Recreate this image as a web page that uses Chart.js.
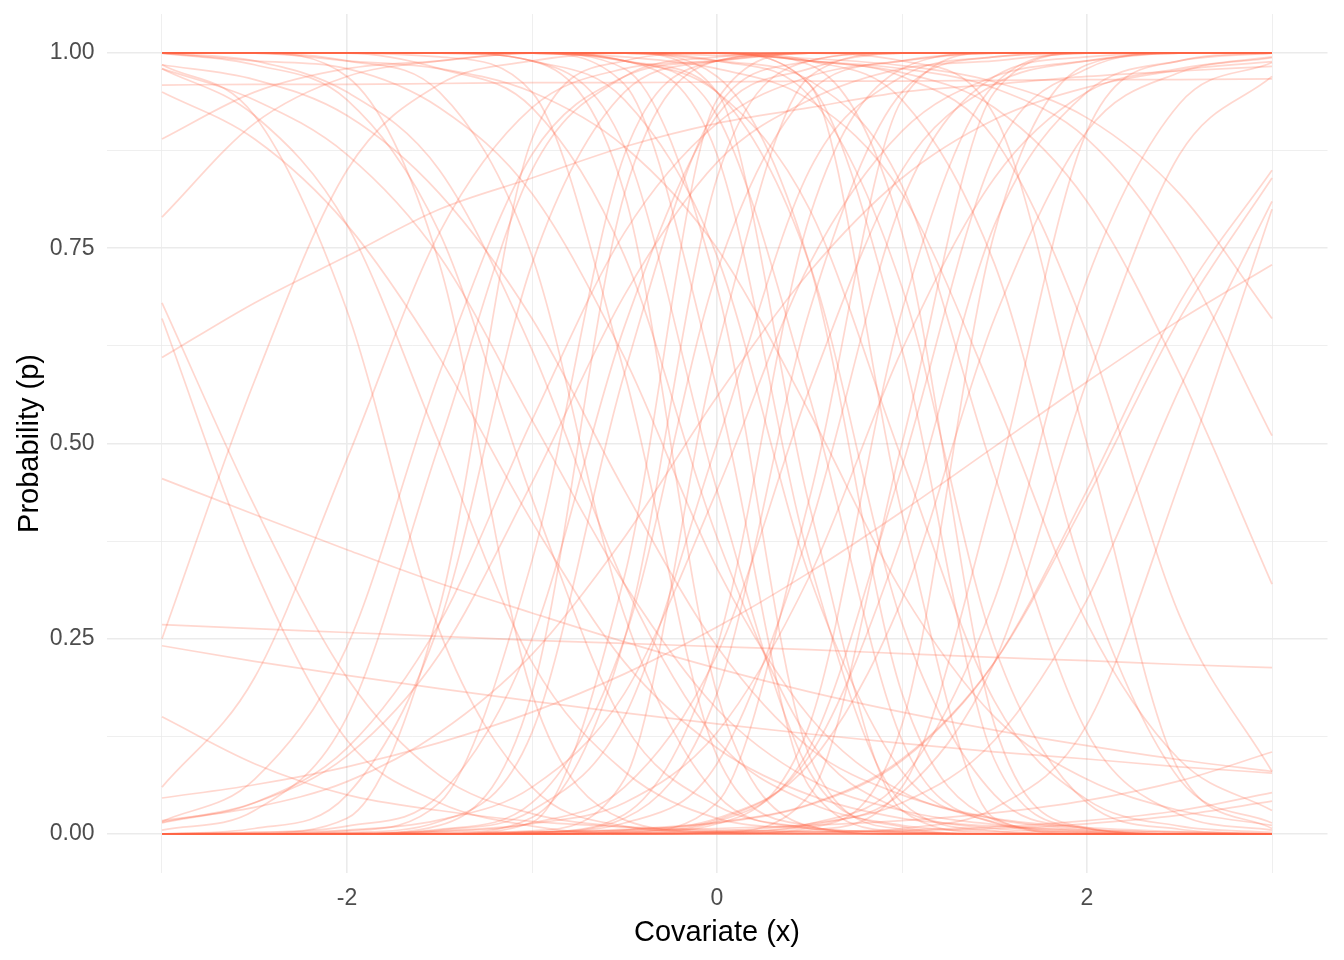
<!DOCTYPE html>
<html>
<head>
<meta charset="utf-8">
<script src="https://cdn.jsdelivr.net/npm/chart.js@4.4.1/dist/chart.umd.min.js"></script>
<style>
  html, body { margin: 0; padding: 0; background: #ffffff; }
  #wrap { width: 1344px; height: 960px; }
</style>
</head>
<body>
<div id="wrap"><canvas id="curveChart" width="1344" height="960"></canvas></div>
<script>
// covariate grid shared by every curve
const xs = [-3, -2.5, -2, -1.5, -1, -0.5, 0, 0.5, 1, 1.5, 2, 2.5, 3];

// gentle curves
const shallowCurves = [
  [0.61, 0.68, 0.74, 0.80, 0.84, 0.88, 0.91, 0.93, 0.95, 0.96, 0.97, 0.977, 0.983],
  [0.455, 0.409, 0.364, 0.321, 0.283, 0.246, 0.212, 0.182, 0.156, 0.133, 0.113, 0.095, 0.080],
  [0.268, 0.263, 0.258, 0.253, 0.248, 0.244, 0.240, 0.236, 0.231, 0.226, 0.222, 0.217, 0.213],
  [0.241, 0.221, 0.203, 0.186, 0.170, 0.155, 0.141, 0.128, 0.116, 0.105, 0.096, 0.086, 0.078],
  [0.046, 0.063, 0.086, 0.117, 0.156, 0.205, 0.265, 0.335, 0.413, 0.496, 0.579, 0.658, 0.729],
  [0.959, 0.960, 0.960, 0.961, 0.962, 0.962, 0.963, 0.964, 0.964, 0.965, 0.966, 0.966, 0.967],
  [0, 0, 0.001, 0.002, 0.003, 0.004, 0.007, 0.011, 0.017, 0.027, 0.043, 0.068, 0.105],
  [0, 0, 0, 0, 0, 0.001, 0.002, 0.003, 0.005, 0.009, 0.017, 0.030, 0.053],
  [0, 0, 0, 0, 0, 0, 0.001, 0.002, 0.004, 0.007, 0.013, 0.024, 0.042],
  [1, 1, 0.99, 0.98, 0.95, 0.88, 0.75, 0.54, 0.31, 0.15, 0.07, 0.03, 0.011],
  [0.017, 0.034, 0.067, 0.13, 0.23, 0.38, 0.56, 0.72, 0.84, 0.915, 0.956, 0.978, 0.989],
  [0.15, 0.09, 0.05, 0.03, 0.016, 0.009, 0.005, 0.003, 0.002, 0, 0, 0, 0],
  [0.98, 0.94, 0.87, 0.74, 0.53, 0.32, 0.16, 0.07, 0.03, 0.012, 0.005, 0.002, 0]
];

// increasing curves
const risingCurves = [
  [0.25, 0.58, 0.85, 0.96, 0.99, 1, 1, 1, 1, 1, 1, 1, 1],
  [0.06, 0.20, 0.48, 0.77, 0.93, 0.98, 0.99, 1, 1, 1, 1, 1, 1],
  [0.79, 0.91, 0.97, 0.99, 1, 1, 1, 1, 1, 1, 1, 1, 1],
  [0.89, 0.95, 0.98, 0.99, 1, 1, 1, 1, 1, 1, 1, 1, 1],
  [0.015, 0.04, 0.10, 0.23, 0.45, 0.69, 0.86, 0.94, 0.98, 0.99, 1, 1, 1],
  [0.014, 0.04, 0.11, 0.27, 0.53, 0.77, 0.91, 0.97, 0.99, 1, 1, 1, 1],
  [0.016, 0.07, 0.24, 0.59, 0.87, 0.97, 0.99, 1, 1, 1, 1, 1, 1],
  [0.005, 0.03, 0.15, 0.5, 0.85, 0.97, 0.995, 1, 1, 1, 1, 1, 1],
  [0, 0, 0.004, 0.04, 0.35, 0.87, 0.99, 1, 1, 1, 1, 1, 1],
  [0, 0.002, 0.01, 0.05, 0.25, 0.65, 0.92, 0.98, 1, 1, 1, 1, 1],
  [0, 0, 0.002, 0.016, 0.13, 0.59, 0.93, 0.99, 1, 1, 1, 1, 1],
  [0, 0, 0, 0.006, 0.04, 0.25, 0.72, 0.95, 0.99, 1, 1, 1, 1],
  [0, 0, 0, 0, 0.004, 0.07, 0.62, 0.97, 1, 1, 1, 1, 1],
  [0, 0, 0, 0.005, 0.03, 0.15, 0.5, 0.85, 0.97, 0.995, 1, 1, 1],
  [0, 0, 0, 0, 0.002, 0.025, 0.24, 0.79, 0.98, 1, 1, 1, 1],
  [0, 0, 0, 0, 0.002, 0.02, 0.18, 0.67, 0.95, 0.995, 1, 1, 1],
  [0, 0, 0, 0.003, 0.014, 0.06, 0.23, 0.57, 0.85, 0.96, 0.99, 1, 1],
  [0, 0, 0, 0, 0, 0.001, 0.013, 0.14, 0.67, 0.96, 1, 1, 1],
  [0, 0, 0, 0, 0, 0.002, 0.016, 0.11, 0.47, 0.87, 0.98, 1, 1],
  [0, 0, 0, 0, 0, 0.003, 0.018, 0.10, 0.38, 0.78, 0.95, 0.99, 1],
  [0, 0, 0, 0, 0.001, 0.005, 0.02, 0.09, 0.30, 0.66, 0.90, 0.975, 0.994],
  [0, 0, 0, 0, 0, 0, 0.002, 0.013, 0.07, 0.30, 0.71, 0.935, 0.988],
  [0, 0, 0, 0, 0, 0, 0.002, 0.011, 0.053, 0.22, 0.58, 0.87, 0.97],
  [0, 0, 0, 0, 0.002, 0.005, 0.014, 0.037, 0.094, 0.22, 0.44, 0.68, 0.85],
  [0, 0, 0, 0, 0.002, 0.006, 0.015, 0.038, 0.096, 0.22, 0.43, 0.66, 0.84],
  [0, 0, 0, 0, 0, 0.001, 0.004, 0.013, 0.04, 0.12, 0.30, 0.57, 0.81],
  [0, 0, 0, 0, 0, 0, 0, 0.001, 0.007, 0.033, 0.14, 0.45, 0.80],
  [0, 0.007, 0.05, 0.27, 0.73, 0.95, 0.99, 1, 1, 1, 1, 1, 1],
  [0, 0, 0, 0, 0.002, 0.014, 0.09, 0.39, 0.81, 0.97, 0.995, 1, 1],
  [0, 0, 0, 0, 0.015, 0.33, 0.94, 1, 1, 1, 1, 1, 1],
  [0, 0, 0, 0, 0, 0, 0, 0.005, 0.06, 0.44, 0.90, 0.99, 1],
  [0, 0.002, 0.005, 0.018, 0.06, 0.18, 0.44, 0.73, 0.90, 0.97, 0.99, 1, 1],
  [0, 0, 0.001, 0.004, 0.013, 0.04, 0.13, 0.33, 0.62, 0.84, 0.95, 0.98, 0.995],
  [0, 0.001, 0.02, 0.29, 0.89, 0.99, 1, 1, 1, 1, 1, 1, 1],
  [0, 0, 0, 0, 0, 0, 0, 0.008, 0.14, 0.77, 0.985, 1, 1],
  [0, 0, 0, 0.001, 0.021, 0.25, 0.84, 0.99, 1, 1, 1, 1, 1],
  [0, 0, 0, 0, 0, 0.002, 0.04, 0.43, 0.94, 1, 1, 1, 1],
  [0, 0, 0, 0.011, 0.18, 0.82, 0.99, 1, 1, 1, 1, 1, 1],
  [0, 0, 0, 0, 0, 0, 0.002, 0.05, 0.5, 0.95, 1, 1, 1]
];

// decreasing curves
const fallingCurves = [
  [0.66, 0.34, 0.12, 0.04, 0.01, 0, 0, 0, 0, 0, 0, 0, 0],
  [0.68, 0.42, 0.20, 0.075, 0.026, 0.009, 0.003, 0, 0, 0, 0, 0, 0],
  [0.95, 0.89, 0.78, 0.61, 0.40, 0.22, 0.11, 0.05, 0.02, 0.01, 0.004, 0, 0],
  [0.985, 0.966, 0.92, 0.82, 0.66, 0.44, 0.24, 0.11, 0.05, 0.02, 0.008, 0.003, 0],
  [0.98, 0.92, 0.78, 0.5, 0.22, 0.08, 0.02, 0.007, 0.002, 0, 0, 0, 0],
  [1, 1, 0.99, 0.95, 0.74, 0.28, 0.05, 0.007, 0, 0, 0, 0, 0],
  [1, 1, 1, 0.995, 0.95, 0.59, 0.10, 0.01, 0, 0, 0, 0, 0],
  [1, 1, 1, 0.98, 0.93, 0.74, 0.38, 0.12, 0.03, 0.007, 0.002, 0, 0],
  [1, 1, 1, 1, 0.99, 0.88, 0.44, 0.08, 0.009, 0, 0, 0, 0],
  [1, 1, 1, 1, 1, 0.98, 0.70, 0.10, 0.006, 0, 0, 0, 0],
  [1, 1, 1, 1, 0.99, 0.94, 0.74, 0.33, 0.08, 0.015, 0.003, 0, 0],
  [1, 1, 1, 1, 1, 0.99, 0.87, 0.35, 0.04, 0.004, 0, 0, 0],
  [1, 1, 1, 1, 1, 0.99, 0.95, 0.73, 0.27, 0.05, 0.007, 0, 0],
  [1, 1, 1, 1, 1, 0.99, 0.95, 0.80, 0.48, 0.17, 0.044, 0.01, 0.002],
  [1, 1, 1, 1, 1, 1, 1, 0.96, 0.62, 0.095, 0.007, 0, 0],
  [1, 1, 1, 1, 1, 1, 0.99, 0.945, 0.70, 0.24, 0.04, 0.006, 0],
  [1, 1, 1, 1, 1, 1, 1, 0.99, 0.94, 0.73, 0.32, 0.07, 0.014],
  [1, 1, 1, 1, 1, 1, 1, 0.99, 0.97, 0.89, 0.64, 0.28, 0.08],
  [1, 1, 1, 1, 1, 1, 1, 0.99, 0.975, 0.93, 0.81, 0.59, 0.32],
  [1, 1, 1, 1, 1, 1, 1, 0.99, 0.98, 0.955, 0.89, 0.74, 0.51],
  [1, 1, 1, 1, 1, 1, 0.997, 0.993, 0.984, 0.963, 0.917, 0.82, 0.66],
  [1, 0.99, 0.98, 0.93, 0.82, 0.61, 0.34, 0.15, 0.054, 0.019, 0.006, 0.002, 0],
  [1, 0.985, 0.94, 0.77, 0.43, 0.14, 0.036, 0.008, 0.002, 0, 0, 0, 0],
  [1, 1, 1, 1, 1, 0.99, 0.92, 0.56, 0.12, 0.014, 0.001, 0, 0],
  [1, 1, 1, 1, 1, 1, 0.99, 0.965, 0.83, 0.46, 0.13, 0.025, 0.005],
  [1, 1, 1, 1, 1, 1, 1, 0.96, 0.41, 0.02, 0, 0, 0],
  [1, 0.99, 0.95, 0.85, 0.62, 0.32, 0.12, 0.04, 0.011, 0.003, 0, 0, 0],
  [1, 1, 1, 1, 1, 0.995, 0.98, 0.94, 0.82, 0.56, 0.27, 0.095, 0.03],
  [0.985, 0.92, 0.67, 0.26, 0.06, 0.01, 0.002, 0, 0, 0, 0, 0, 0],
  [1, 1, 1, 1, 1, 1, 1, 1, 0.99, 0.92, 0.5, 0.08, 0.007],
  [1, 1, 1, 1, 1, 0.96, 0.57, 0.06, 0.003, 0, 0, 0, 0],
  [1, 1, 1, 1, 1, 1, 0.95, 0.42, 0.03, 0.001, 0, 0, 0],
  [1, 1, 1, 1, 0.99, 0.82, 0.18, 0.01, 0, 0, 0, 0, 0],
  [1, 1, 1, 1, 1, 1, 1, 0.985, 0.77, 0.14, 0.008, 0, 0],
  [1, 1, 0.97, 0.73, 0.18, 0.018, 0.002, 0, 0, 0, 0, 0, 0],
  [1, 1, 1, 1, 1, 1, 0.97, 0.73, 0.18, 0.018, 0.002, 0, 0]
];

const xTicks = [-3, -2, -1, 0, 1, 2, 3];
const yTicks = [0, 0.125, 0.25, 0.375, 0.5, 0.625, 0.75, 0.875, 1];

const lineColor = "rgba(255, 99, 71, 0.26)";
const gridColor = "#EBEBEB";
const fontFamily = "'Liberation Sans', Arial, sans-serif";

const allCurves = [...shallowCurves, ...risingCurves, ...fallingCurves];
const datasets = allCurves.map(vals => ({
    data: vals.map((p, i) => ({ x: xs[i], y: p })),
    borderColor: lineColor,
    borderWidth: 1.7,
    pointRadius: 0,
    fill: false,
    cubicInterpolationMode: "monotone"
}));

const ctx = document.getElementById("curveChart").getContext("2d");
const curveChart = new Chart(ctx, {
    type: "line",
    data: { datasets: datasets },
    options: {
        responsive: false,
        animation: false,
        events: [],
        layout: { padding: { left: 0, right: 16.5, top: 14, bottom: 0 } },
        plugins: { legend: { display: false }, tooltip: { enabled: false } },
        scales: {
            x: {
                type: "linear",
                min: -3.3,
                max: 3.3,
                afterBuildTicks: s => { s.ticks = xTicks.map(v => ({ value: v })); },
                afterFit: s => { s.height = 87; s.paddingLeft = 0; s.paddingRight = 0; },
                border: { display: false },
                grid: {
                    color: gridColor,
                    drawTicks: false,
                    lineWidth: c => (c.tick && c.tick.value % 2 === 0 ? 1.6 : 0.8)
                },
                ticks: {
                    autoSkip: false,
                    maxRotation: 0,
                    padding: 12,
                    color: "#4D4D4D",
                    font: { family: fontFamily, size: 23 },
                    callback: v => (v % 2 === 0 ? String(v) : "")
                },
                title: {
                    display: true,
                    text: "Covariate (x)",
                    color: "#000000",
                    font: { family: fontFamily, size: 29 },
                    padding: { top: 0, bottom: 10 }
                }
            },
            y: {
                min: -0.05,
                max: 1.05,
                afterBuildTicks: s => { s.ticks = yTicks.map(v => ({ value: v })); },
                afterFit: s => { s.width = 106.5; s.paddingTop = 0; s.paddingBottom = 0; },
                border: { display: false },
                grid: {
                    color: gridColor,
                    drawTicks: false,
                    lineWidth: c => (c.index % 2 === 0 ? 1.6 : 0.8)
                },
                ticks: {
                    autoSkip: false,
                    padding: 12,
                    color: "#4D4D4D",
                    font: { family: fontFamily, size: 23 },
                    callback: (v, i) => (i % 2 === 0 ? v.toFixed(2) : "")
                },
                title: {
                    display: true,
                    text: "Probability (p)",
                    color: "#000000",
                    font: { family: fontFamily, size: 29 },
                    padding: { top: 13, bottom: 0 }
                }
            }
        }
    }
});
</script>
</body>
</html>
